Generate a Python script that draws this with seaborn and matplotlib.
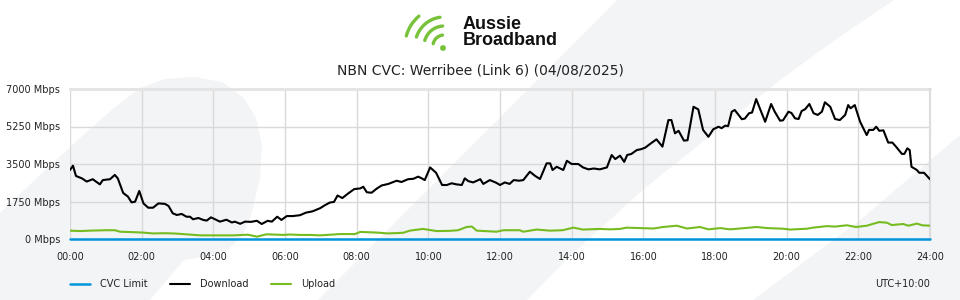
import matplotlib
matplotlib.use("Agg")
import matplotlib.pyplot as plt
import seaborn as sns
import pandas as pd
from matplotlib.patches import Polygon, Arc, Circle

# ---------------- data ----------------
title = "NBN CVC: Werribee (Link 6) (04/08/2025)"
series_names = ["CVC Limit", "Download", "Upload"]
series_colors = ["#0095da", "#000000", "#76bc21"]

# minutes since midnight
download_min = [0, 5, 10, 20, 28, 38, 50, 55, 67, 75, 80, 89, 97, 103, 109, 116, 123, 131, 139, 148,
                159, 165, 172, 179, 187, 195, 201, 206, 215, 223, 229, 236, 243, 251, 262, 271, 276, 285,
                293, 303, 313, 321, 331, 338, 347, 354, 363, 373, 385, 395, 406, 419, 427, 435, 442, 448,
                456, 466, 476, 486, 491, 497, 505, 514, 522, 533, 547, 555, 566, 575, 583, 589, 594, 603,
                613, 623, 631, 639, 647, 656, 661, 667, 675, 687, 692, 703, 714, 720, 728, 736, 743, 752,
                759, 770, 779, 787, 798, 804, 808, 815, 826, 832, 840, 851, 859, 868, 877, 887, 899, 907,
                913, 921, 928, 933, 940, 949, 956, 963, 971, 982, 992, 1002, 1007, 1013, 1019, 1028, 1034,
                1044, 1052, 1060, 1069, 1077, 1086, 1091, 1097, 1102, 1108, 1113, 1125, 1130, 1137, 1142,
                1149, 1155, 1164, 1174, 1180, 1189, 1194, 1203, 1208, 1214, 1220, 1225, 1231, 1238, 1245,
                1252, 1259, 1264, 1273, 1281, 1289, 1298, 1303, 1307, 1314, 1323, 1334, 1338, 1345, 1350,
                1355, 1362, 1370, 1377, 1383, 1393, 1397, 1402, 1406, 1409, 1418, 1422, 1430, 1440]
download_mbps = [3220, 3420, 2940, 2830, 2680, 2790, 2550, 2750, 2790, 2990, 2830, 2150, 1980, 1710, 1740,
                 2240, 1660, 1460, 1460, 1660, 1640, 1540, 1200, 1120, 1170, 1040, 1040, 920, 980, 890, 860,
                 1010, 920, 810, 900, 770, 810, 710, 810, 800, 850, 700, 850, 810, 1040, 890, 1070, 1070,
                 1110, 1230, 1290, 1440, 1580, 1700, 1730, 2030, 1910, 2130, 2330, 2360, 2440, 2180, 2160,
                 2360, 2500, 2570, 2720, 2660, 2790, 2810, 2910, 2830, 2750, 3340, 3090, 2520, 2520, 2600,
                 2550, 2520, 2830, 2700, 2640, 2790, 2570, 2750, 2620, 2520, 2640, 2570, 2750, 2720, 2750,
                 3140, 2940, 2800, 3530, 3530, 3220, 3370, 3220, 3650, 3500, 3500, 3340, 3250, 3290, 3250,
                 3340, 3920, 3730, 3890, 3600, 3920, 3970, 4150, 4190, 4260, 4430, 4650, 4310, 5550, 5550,
                 4930, 5050, 4590, 4610, 6170, 6050, 5090, 4770, 5120, 5240, 5170, 5290, 5270, 5940, 6020,
                 5590, 5620, 5870, 5900, 6530, 6100, 5470, 6300, 5940, 5520, 5540, 5940, 5880, 5630, 5600,
                 5970, 6060, 6300, 5870, 5790, 5940, 6380, 6170, 5600, 5550, 5790, 6250, 6100, 6250, 5470,
                 4850, 5090, 5090, 5240, 5050, 5070, 4500, 4500, 4310, 3970, 3970, 4230, 4150, 3370, 3220,
                 3090, 3090, 2790]

upload_min = [0, 17, 33, 61, 75, 84, 105, 122, 139, 159, 172, 189, 218, 273, 298, 313, 329, 357, 368, 385,
              402, 419, 452, 477, 486, 514, 532, 558, 569, 591, 614, 636, 650, 664, 673, 681, 714, 726, 753,
              759, 781, 804, 825, 843, 859, 887, 904, 921, 932, 954, 977, 993, 1016, 1033, 1055, 1069, 1089,
              1105, 1122, 1150, 1167, 1194, 1206, 1234, 1244, 1267, 1281, 1301, 1316, 1334, 1355, 1368, 1376,
              1395, 1404, 1418, 1427, 1440]
upload_mbps = [390, 370, 390, 410, 410, 340, 320, 300, 260, 270, 260, 230, 170, 170, 200, 110, 220, 190, 210,
               190, 190, 170, 230, 230, 330, 300, 260, 290, 390, 470, 370, 380, 410, 560, 580, 390, 340, 410,
               410, 340, 440, 390, 410, 530, 440, 470, 450, 470, 530, 510, 490, 560, 620, 490, 560, 450, 510,
               450, 490, 560, 510, 480, 440, 480, 530, 600, 580, 640, 560, 620, 790, 760, 650, 700, 620, 720,
               640, 620]

cvc_min = [0, 1440]
cvc_mbps = [0, 0]

y_ticks = [0, 1750, 3500, 5250, 7000]
y_labels = ["0 Mbps", "1750 Mbps", "3500 Mbps", "5250 Mbps", "7000 Mbps"]
x_ticks = [0, 120, 240, 360, 480, 600, 720, 840, 960, 1080, 1200, 1320, 1440]
x_labels = ["00:00", "02:00", "04:00", "06:00", "08:00", "10:00", "12:00",
            "14:00", "16:00", "18:00", "20:00", "22:00", "24:00"]
timezone = "UTC+10:00"

# ---------------- figure ----------------
sns.set_style("white")
plt.rcParams['font.family'] = ['DejaVu Sans']
W, H = 960, 300
fig = plt.figure(figsize=(9.6, 3.0), dpi=100)
fig.patch.set_facecolor("white")

# background decoration (pixel coordinates)
bg = fig.add_axes([0, 0, 1, 1], zorder=0)
bg.set_xlim(0, W)
bg.set_ylim(H, 0)
bg.axis("off")
grey = "#f3f4f6"
leaf = [(0, 300), (0, 213), (40, 175), (80, 138), (115, 107), (140, 88), (165, 79), (195, 77),
        (222, 82), (243, 97), (256, 118), (262, 145), (260, 178), (252, 212), (243, 235),
        (228, 250), (205, 257), (184, 260), (150, 300)]
band = [(617, 0), (894, 0), (835, 40), (780, 80), (645, 188), (566, 260), (527, 300), (318, 300)]
corner = [(960, 135), (960, 300), (753, 300), (860, 220)]
for pts in (leaf, band, corner):
    bg.add_patch(Polygon(pts, closed=True, facecolor=grey, edgecolor="none"))

# logo icon (stylised signal strokes)
logo_green = "#78c23a"
cx, cy = 444, 46
for r, t1, t2 in [(11, 192, 262), (20, 196, 266), (29, 198, 262), (39, 195, 230)]:
    bg.add_patch(Arc((cx, cy), 2 * r, 2 * r, theta1=t1, theta2=t2,
                     color=logo_green, lw=2.4, capstyle="round"))
bg.add_patch(Circle((cx - 1, cy + 2), 2.2, color=logo_green))
bg.text(463, 24.5, "Aussie", fontsize=13, fontweight="bold", family="Liberation Sans",
        va="center", ha="left", color="#111111")
bg.text(463, 40.5, "Broadband", fontsize=13, fontweight="bold", family="Liberation Sans",
        va="center", ha="left", color="#111111")
bg.text(480, 70, title, fontsize=10, ha="center", va="center", color="#222222")

# main axes
ax = fig.add_axes([70 / W, 61 / H, 860 / W, 150 / H], zorder=1)
ax.patch.set_alpha(0)

df_dl = pd.DataFrame({"t": download_min, "v": download_mbps})
df_ul = pd.DataFrame({"t": upload_min, "v": upload_mbps})
df_cvc = pd.DataFrame({"t": cvc_min, "v": cvc_mbps})

sns.lineplot(data=df_cvc, x="t", y="v", ax=ax, color=series_colors[0], lw=1.8,
             label=series_names[0], clip_on=False, zorder=5)
sns.lineplot(data=df_dl, x="t", y="v", ax=ax, color=series_colors[1], lw=1.5,
             label=series_names[1], zorder=4)
sns.lineplot(data=df_ul, x="t", y="v", ax=ax, color=series_colors[2], lw=1.5,
             label=series_names[2], zorder=4)

ax.set_xlim(0, 1440)
ax.set_ylim(0, 7000)
ax.set_xticks(x_ticks, x_labels)
ax.set_yticks(y_ticks, y_labels)
ax.tick_params(axis="both", length=0, labelsize=7, labelcolor="#222222")
ax.tick_params(axis="y", pad=7)
ax.tick_params(axis="x", pad=9)
ax.set_xlabel("")
ax.set_ylabel("")
ax.grid(True, color="#d9d9d9", lw=1.0)
ax.axhline(7000, color="#e4e4e4", lw=2.2, zorder=1, clip_on=False)
ax.axvline(1440, color="#dddddd", lw=1.6, zorder=1, clip_on=False)
for s in ax.spines.values():
    s.set_visible(False)

handles, labels = ax.get_legend_handles_labels()
ax.get_legend().remove()
fig.legend(handles, labels, loc="center left", bbox_to_anchor=(70 / W, 1 - 284 / H), ncol=3,
           frameon=False, fontsize=7, handlelength=2.06, handletextpad=1.03, columnspacing=2.3,
           borderpad=0, borderaxespad=0, labelcolor="#222222")
fig.text(930 / W, 1 - 284 / H, timezone, fontsize=7, ha="right", va="center", color="#222222")

fig.savefig("out.png", dpi=100)
